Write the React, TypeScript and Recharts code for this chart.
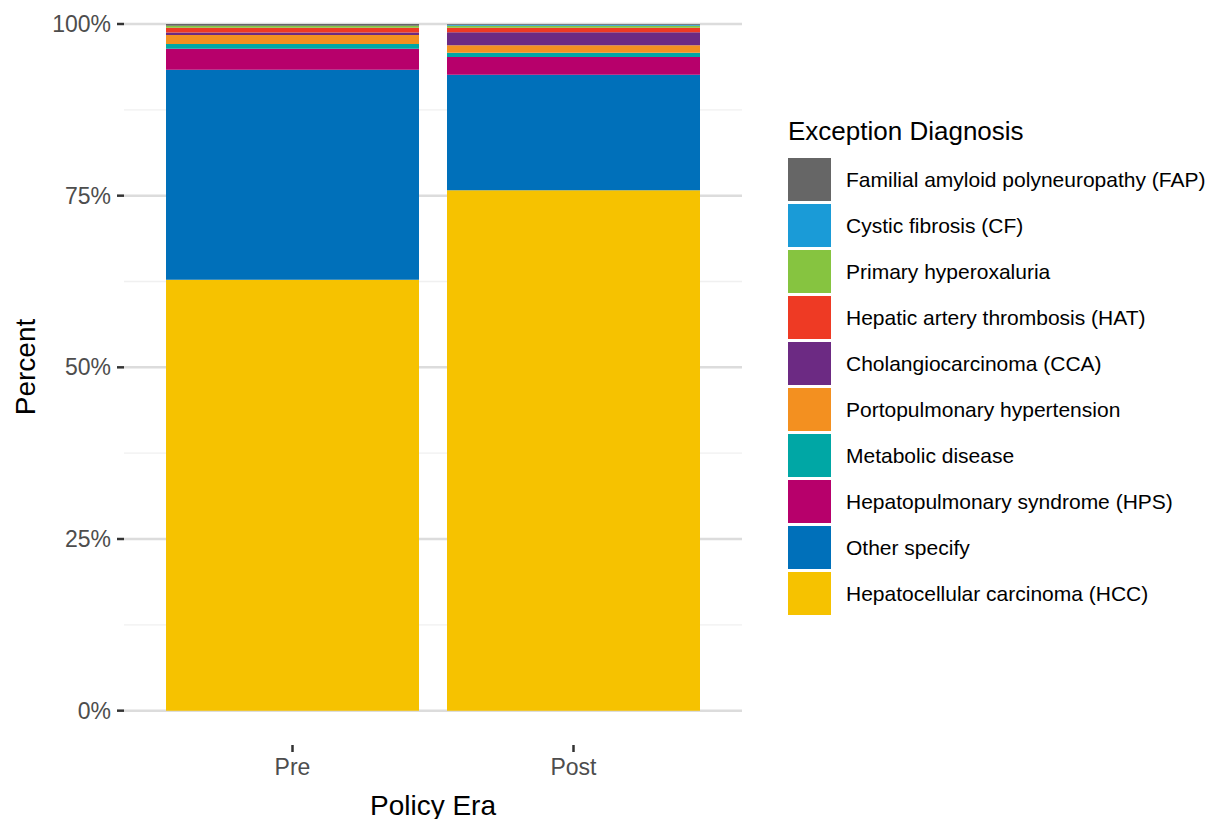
import {
  BarChart,
  Bar,
  XAxis,
  YAxis,
  CartesianGrid,
} from "recharts";

const eras = ["Pre", "Post"];

// stacking order, bottom to top
const diagnoses = [
  "Hepatocellular carcinoma (HCC)",
  "Other specify",
  "Hepatopulmonary syndrome (HPS)",
  "Metabolic disease",
  "Portopulmonary hypertension",
  "Cholangiocarcinoma (CCA)",
  "Hepatic artery thrombosis (HAT)",
  "Primary hyperoxaluria",
  "Cystic fibrosis (CF)",
  "Familial amyloid polyneuropathy (FAP)",
];

const colors = [
  "#f6c200",
  "#0070ba",
  "#b7006b",
  "#00a7a5",
  "#f39020",
  "#6c2a83",
  "#ee3a24",
  "#86c440",
  "#1a9bd7",
  "#666666",
];

// percent per era, same order as diagnoses
const preValues = [62.75, 30.6, 3.05, 0.7, 1.3, 0.35, 0.7, 0.3, 0, 0.25];
const postValues = [75.8, 16.8, 2.6, 0.6, 1.1, 1.9, 0.65, 0.3, 0.15, 0.1];

const yTicks = [0, 25, 50, 75, 100];
const minorTicks = [12.5, 37.5, 62.5, 87.5];

const font = "'Liberation Sans', Arial, sans-serif";

const data = eras.map((era, i) => {
  const vals = i === 0 ? preValues : postValues;
  const row: Record<string, string | number> = { era };
  diagnoses.forEach((d, j) => {
    row[d] = vals[j];
  });
  return row;
});

const Legend = () => (
  <div style={{ position: "absolute", left: 788, top: 118, fontFamily: font }}>
    <div style={{ fontSize: 26, lineHeight: "26px", color: "#000", marginBottom: 14 }}>
      Exception Diagnosis
    </div>
    {diagnoses
      .map((d, i) => ({ d, c: colors[i] }))
      .reverse()
      .map(({ d, c }) => (
        <div key={d} style={{ display: "flex", alignItems: "center", height: 43, marginBottom: 3 }}>
          <div style={{ width: 43, height: 43, background: c }} />
          <span style={{ marginLeft: 15, fontSize: 21, color: "#000", whiteSpace: "nowrap" }}>{d}</span>
        </div>
      ))}
  </div>
);

export default function App() {
  return (
    <div style={{ position: "absolute", left: 0, top: 0, width: 1211, height: 819, background: "#fff" }}>
      <BarChart
        width={1211}
        height={819}
        data={data}
        margin={{ top: 24, right: 469, left: 0, bottom: 0 }}
        barCategoryGap={14}
        style={{ fontFamily: font }}
      >
        <CartesianGrid
          vertical={false}
          horizontalValues={minorTicks}
          stroke="#f0f0f0"
          strokeWidth={1.3}
        />
        <CartesianGrid
          vertical={false}
          horizontalValues={yTicks}
          stroke="#dcdcdc"
          strokeWidth={2.5}
        />
        <XAxis
          dataKey="era"
          padding={{ left: 28, right: 28 }}
          height={74}
          axisLine={false}
          tickSize={7}
          tickMargin={7}
          tickLine={{ stroke: "#333", strokeWidth: 2.5 }}
          tick={{ fill: "#4d4d4d", fontSize: 23 }}
          label={{
            content: ({ viewBox }: any) => (
              <text
                x={viewBox.x + viewBox.width / 2}
                y={viewBox.y + 70}
                textAnchor="middle"
                fontSize={28}
                fill="#000"
              >
                Policy Era
              </text>
            ),
          }}
        />
        <YAxis
          width={124}
          domain={[-5, 100]}
          allowDataOverflow
          ticks={yTicks}
          tickFormatter={(v) => `${v}%`}
          axisLine={false}
          tickSize={7}
          tickMargin={6}
          tickLine={{ stroke: "#333", strokeWidth: 2.5 }}
          tick={{ fill: "#4d4d4d", fontSize: 23 }}
          label={{
            content: () => (
              <text
                x={35}
                y={367}
                transform="rotate(-90 35 367)"
                textAnchor="middle"
                fontSize={28}
                fill="#000"
              >
                Percent
              </text>
            ),
          }}
        />
        {diagnoses.map((d, i) => (
          <Bar key={d} dataKey={d} stackId="a" fill={colors[i]} isAnimationActive={false} />
        ))}
      </BarChart>
      <Legend />
    </div>
  );
}
